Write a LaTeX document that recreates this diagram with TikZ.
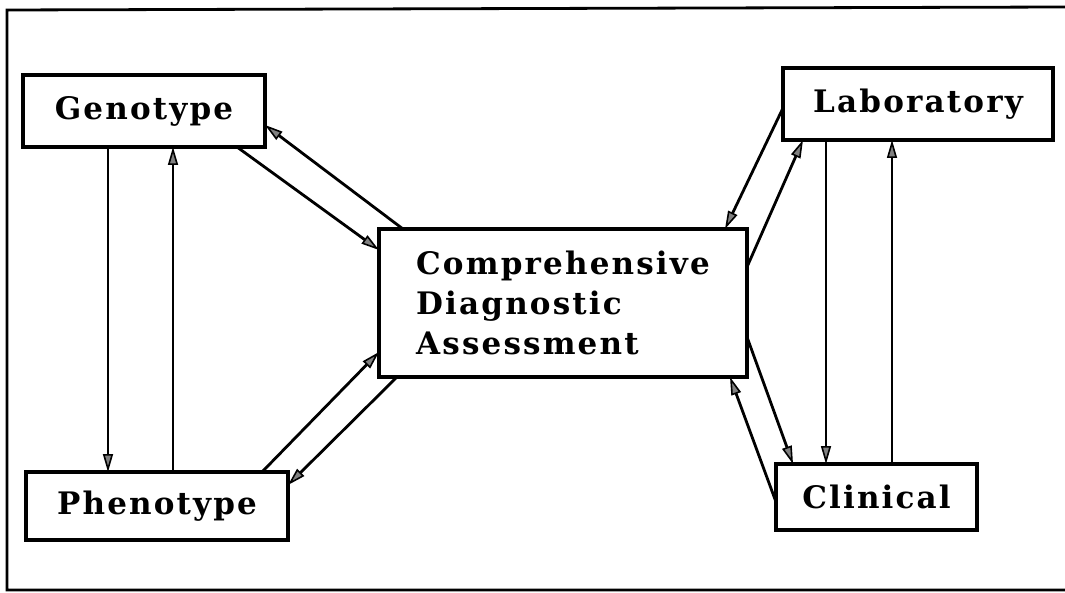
\documentclass[tikz,border=0pt]{standalone}
\usepackage{fontspec}
\usetikzlibrary{arrows.meta}
\newfontfamily\lblfont[LetterSpace=7]{DejaVu Serif}
\begin{document}
\begin{tikzpicture}[x=1pt,y=-1pt,
  box/.style={draw, line width=3.2pt, rectangle, inner sep=0pt, outer sep=0pt,
    font=\lblfont\bfseries\fontsize{31}{40}\selectfont},
  link/.style={line width=2.8pt, -{Triangle[length=18pt,width=10pt,fill=gray,line width=1.6pt]}},
  frame/.style={line width=2.8pt}]
\useasboundingbox (0,0) rectangle (1065,593);
\draw[frame] (1065,7) -- (7,10) -- (7,590) -- (1065,590);

\node[box, minimum width=242pt, minimum height=72pt] (gen) at (144,111) {Genotype};
\node[box, minimum width=262pt, minimum height=68pt] (phen) at (157,506) {Phenotype};
\node[box, minimum width=368pt, minimum height=148pt, align=left] (cda) at (563,303) {Comprehensive\\Diagnostic\\Assessment};
\node[box, minimum width=270pt, minimum height=72pt] (lab) at (918,104) {Laboratory};
\node[box, minimum width=201pt, minimum height=66pt] (clin) at (876.5,497) {Clinical};

% Genotype <-> Phenotype
\draw[link] ([xshift=85pt]gen.south west) -- ([xshift=85pt]gen.south west |- phen.north);
\draw[link] ([xshift=147pt]phen.north west) -- ([xshift=147pt]phen.north west |- gen.south);
% Genotype <-> CDA
\draw[link] ([xshift=-28pt]gen.south east) -- ([yshift=-21pt]cda.north west);
\draw[link] ([xshift=24pt]cda.north west) -- ([yshift=22pt]gen.south east);
% Phenotype <-> CDA
\draw[link] ([xshift=-26pt]phen.north east) -- ([yshift=25pt]cda.south west);
\draw[link] ([xshift=18pt]cda.south west) -- ([yshift=-13pt]phen.north east);
% Laboratory <-> CDA
\draw[link] ([yshift=-40pt]lab.north west) -- ([xshift=-22pt]cda.north east);
\draw[link] ([yshift=-38pt]cda.north east) -- ([xshift=20pt]lab.south west);
% Laboratory <-> Clinical
\draw[link] ([xshift=43pt]lab.south west) -- ([xshift=43pt]lab.south west |- clin.north);
\draw[link] ([xshift=116pt]clin.north west) -- ([xshift=116pt]clin.north west |- lab.south);
% CDA <-> Clinical
\draw[link] ([yshift=40pt]cda.south east) -- ([xshift=17pt]clin.north west);
\draw[link] ([yshift=-38pt]clin.north west) -- ([xshift=-17pt]cda.south east);
\end{tikzpicture}
\end{document}
